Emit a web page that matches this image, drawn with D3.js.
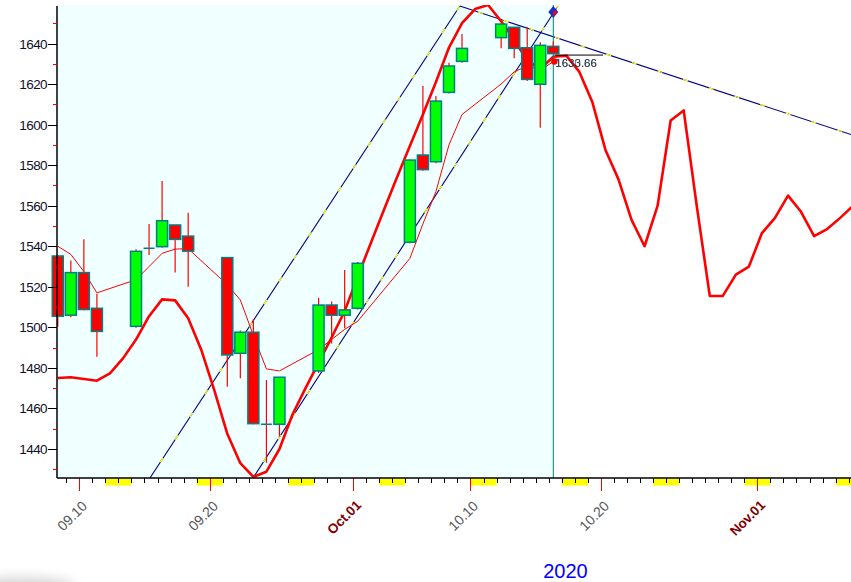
<!DOCTYPE html>
<html><head><meta charset="utf-8">
<script src="https://cdn.jsdelivr.net/npm/d3@7"></script>
<style>html,body{margin:0;padding:0;background:#fff;overflow:hidden}svg{display:block}</style>
</head><body><svg id="c" width="851" height="582"></svg>
<script>
// ---------- data ----------
const candleDates = ["2020-09-08","2020-09-09","2020-09-10","2020-09-11","2020-09-14","2020-09-15","2020-09-16","2020-09-17","2020-09-18","2020-09-21","2020-09-22","2020-09-23","2020-09-24","2020-09-25","2020-09-28","2020-09-29","2020-09-30","2020-10-01","2020-10-05","2020-10-06","2020-10-07","2020-10-08","2020-10-09","2020-10-12","2020-10-13","2020-10-14","2020-10-15","2020-10-16"];
const openV  = [1535.2,1506,1527,1509.4,1500.5,1539,1539.8,1550.5,1545,1534.4,1487.2,1497.6,1452.2,1452.2,1478.5,1511,1506,1509.4,1542,1585,1581.7,1615.9,1631.2,1642.9,1648,1637.9,1619.9,1638.6];
const highV  = [1535.5,1533,1543.5,1516.5,1538.5,1551,1572.2,1550.5,1556.5,1534.4,1498.5,1504,1474,1475.5,1514.6,1512.7,1528.3,1532.2,1582.8,1619,1614.1,1630.5,1644.7,1650,1648,1648,1640.6,1641];
const lowV   = [1500.3,1505,1508.4,1485.5,1499.8,1535.7,1539.3,1527,1520,1470.7,1474.9,1452.2,1433.2,1446.1,1477.5,1492,1499.5,1508.8,1541.5,1577.3,1581,1615.4,1630.5,1637.6,1632.7,1621.5,1598.5,1635];
const closeV = [1505.5,1527,1508.8,1498,1537.5,1539,1552.6,1543.4,1537.6,1486.4,1497.6,1452.5,1452.2,1475.4,1511,1506,1508.6,1531.6,1582.5,1577.8,1611.6,1628.9,1637.6,1649.6,1637.6,1622.3,1639.1,1635];
const avgLine = [1540,1536,1527.5,1517,1523.5,1530,1536.5,1538.6,1538.8,1521,1513.5,1496,1479.5,1478.5,1489,1494,1499,1503,1534,1551,1567,1590,1605,1620,1626,1629,1627,1631];

// daily smoothed / projected curve, Sep 8 .. Nov 8
const curveStart = "2020-09-08";
const curveValues = [1475,1475.4,1474.5,1473.7,1477.3,1484.7,1494,1505.5,1513.8,1513.3,1504.5,1489,1469,1447.5,1433,1426.3,1428.8,1440,1457,1470,1482.5,1495,1508,1525,1541.5,1557.8,1573.8,1589.4,1605,1621,1638,1650,1657,1659,1651,1642,1631.5,1627.5,1633.5,
  1634,1626,1611,1587.5,1573,1553,1540,1560,1602,1607,1560,1515.5,1515.5,1526,1530,1546.5,1554,1565,1557,1545,1548.5,1554,1560];

// trend lines [date, value] endpoints
const trendUpper = [["2020-09-15T10:00:00Z",1425.7],["2020-10-09T04:30:00Z",1658.5]];
const trendLower = [["2020-09-23T07:40:00Z",1425.7],["2020-10-16T17:00:00Z",1658.5]];
const trendDown  = [["2020-10-09T04:30:00Z",1658.5],["2020-11-08T04:20:00Z",1595.1]];

const xTickDates = ["2020-09-10","2020-09-20","2020-10-01","2020-10-10","2020-10-20","2020-11-01"];
const xTickTexts = ["09.10","09.20","Oct.01","10.10","10.20","Nov.01"];
const xTickMonth = [false,false,true,false,false,true];
const yMajor = [1440,1460,1480,1500,1520,1540,1560,1580,1600,1620,1640];
const yMinor = [1430,1450,1470,1490,1510,1530,1550,1570,1590,1610,1630,1650];
const yearLabel = "2020";
const lastPrice = 1634.3, markerValue = 1631.1, diamondValue = 1655.5;
const priceTexts = ["1633.66","1630.86"];

// ---------- scales ----------
const P = s => new Date(s.length === 10 ? s + "T00:00:00Z" : s);
const DAY = 864e5;
const ref = P("2020-09-10").getTime();
const x = d3.scaleUtc().domain([new Date(ref - 1.71*DAY), new Date(ref + 59.18*DAY)]).range([57, 851]);
const y = d3.scaleLinear().domain([1425.7, 1658.5]).range([478, 6]);
const dayPx = x(new Date(ref + DAY)) - x(new Date(ref));
const off = 0.35 * dayPx;
const xc = d => x(P(d)) + off;

const svg = d3.select("#c");
const defs = svg.append("defs");
defs.append("clipPath").attr("id","plot").append("rect").attr("x",57).attr("y",5).attr("width",794).attr("height",473);
const blur = defs.append("filter").attr("id","blur").attr("x","-50%").attr("y","-50%").attr("width","200%").attr("height","200%");
blur.append("feGaussianBlur").attr("stdDeviation",6);

svg.append("rect").attr("width",851).attr("height",582).attr("fill","#fff");
svg.append("ellipse").attr("cx",20).attr("cy",586).attr("rx",55).attr("ry",9).attr("fill","#d8d8d8").attr("filter","url(#blur)");

const lastX = xc(candleDates[candleDates.length-1]);
// history background
svg.append("rect").attr("x",57).attr("y",5).attr("width",lastX-57).attr("height",473).attr("fill","#f0ffff");

const plot = svg.append("g").attr("clip-path","url(#plot)");

// trend lines
[trendUpper, trendLower, trendDown].forEach(t => {
  const pts = t.map(p => [x(P(p[0])), y(p[1])]);
  plot.append("line").attr("x1",pts[0][0]).attr("y1",pts[0][1]).attr("x2",pts[1][0]).attr("y2",pts[1][1])
    .attr("stroke","#000080").attr("stroke-width",1.1);
  plot.append("line").attr("x1",pts[0][0]).attr("y1",pts[0][1]).attr("x2",pts[1][0]).attr("y2",pts[1][1])
    .attr("stroke","#ffff00").attr("stroke-width",1.2).attr("stroke-dasharray","5,22").attr("stroke-dashoffset",8);
});

// vertical marker line
svg.append("line").attr("x1",lastX).attr("x2",lastX).attr("y1",5).attr("y2",478).attr("stroke","#008080").attr("stroke-width",1);

// moving-average thin line
const line = d3.line();
plot.append("path").attr("d", line(candleDates.map((d,i)=>[xc(d), y(avgLine[i])])))
  .attr("fill","none").attr("stroke","#ff0000").attr("stroke-width",1);

// candles
const cw = 11;
const cg = svg.append("g");
candleDates.forEach((d,i) => {
  const cx = xc(d);
  cg.append("line").attr("x1",cx).attr("x2",cx).attr("y1",y(highV[i])).attr("y2",y(lowV[i]))
    .attr("stroke","#ff0000").attr("stroke-width",1.2);
});
candleDates.forEach((d,i) => {
  const cx = xc(d), o = openV[i], c = closeV[i];
  const top = y(Math.max(o,c)), bot = y(Math.min(o,c));
  if (Math.abs(bot-top) < 1) {
    cg.append("line").attr("x1",cx-cw/2).attr("x2",cx+cw/2).attr("y1",top).attr("y2",top).attr("stroke","#008080").attr("stroke-width",1.5);
  } else {
    cg.append("rect").attr("x",cx-cw/2).attr("y",top).attr("width",cw).attr("height",bot-top)
      .attr("fill", c >= o ? "#00ff00" : "#ff0000").attr("stroke","#008080").attr("stroke-width",1.5);
  }
});

// thick curve
const cStart = P(curveStart);
const curveDates = d3.utcDay.range(cStart, d3.utcDay.offset(cStart, curveValues.length));
plot.append("path").attr("d", line(curveDates.map((d,i)=>[x(d)+off, y(curveValues[i])])))
  .attr("fill","none").attr("stroke","#ff0000").attr("stroke-width",2.6).attr("stroke-linejoin","round");

// price marker
const lp0 = d3.utcHour.offset(P("2020-10-16"), 11), lp1 = d3.utcHour.offset(P("2020-10-20"), 4);
svg.append("line").attr("x1",x(lp0)).attr("x2",x(lp1)).attr("y1",y(lastPrice)).attr("y2",y(lastPrice)).attr("stroke","#000").attr("stroke-width",1);
svg.append("circle").attr("cx",lastX+1).attr("cy",y(markerValue)).attr("r",3.2).attr("fill","#ff0000");
svg.append("text").attr("x",lastX+2).attr("y",y(lastPrice)+11.5).attr("font-family","Liberation Sans, Arial, sans-serif")
  .attr("font-size",11.5).attr("fill","#4a7fb5").attr("opacity",0.9).text(priceTexts[1]);
svg.append("text").attr("x",lastX+2).attr("y",y(lastPrice)+11.5).attr("font-family","Liberation Sans, Arial, sans-serif")
  .attr("font-size",11.5).attr("fill","#222").attr("opacity",0.85).text(priceTexts[0]);

// diamond
const dy = y(diamondValue);
svg.append("path").attr("d",`M${lastX},${dy-6}L${lastX+5},${dy}L${lastX},${dy+6}L${lastX-5},${dy}Z`).attr("fill","#1030d0");
svg.append("path").attr("d",`M${lastX},${dy-2}L${lastX+4},${dy}L${lastX},${dy+5}Z`).attr("fill","#ff0000");

// ---------- axes ----------
const font = "Liberation Sans, Arial, sans-serif";
// weekend blocks
const allDays = d3.utcDay.range(x.domain()[0], x.domain()[1]);
allDays.filter(d => d.getUTCDay() === 6).forEach(d => {
  const x0 = x(d), x1 = Math.min(851, x(d3.utcDay.offset(d,2)));
  svg.append("rect").attr("x",x0).attr("y",478.5).attr("width",x1-x0).attr("height",7).attr("fill","#ffff00");
});
// daily ticks
allDays.forEach(d => {
  const xx = Math.round(x(d)) + 0.5;
  if (xx > 58) svg.append("line").attr("x1",xx).attr("x2",xx).attr("y1",478).attr("y2",483).attr("stroke","#000").attr("stroke-width",1);
});
// labelled ticks
xTickDates.forEach((d,i) => {
  const xx = Math.round(x(P(d))) + 0.5;
  svg.append("line").attr("x1",xx).attr("x2",xx).attr("y1",478).attr("y2",491).attr("stroke","#ff0000").attr("stroke-width",1);
  svg.append("text").attr("transform",`translate(${xx+8.5},${xTickMonth[i]?506:507}) rotate(-45)`)
    .attr("text-anchor","end").attr("font-family",font)
    .attr("font-size", xTickMonth[i] ? 13.5 : 14)
    .attr("font-weight", xTickMonth[i] ? "bold" : "normal")
    .attr("fill", xTickMonth[i] ? "#800000" : "#555")
    .text(xTickTexts[i]);
});
// axis lines
svg.append("line").attr("x1",57).attr("x2",851).attr("y1",478).attr("y2",478).attr("stroke","#000").attr("stroke-width",1.5);
svg.append("line").attr("x1",57).attr("x2",57).attr("y1",6).attr("y2",478).attr("stroke","#000").attr("stroke-width",1.5);
// y ticks
yMinor.forEach(v => {
  const yy = Math.round(y(v)) + 0.5;
  svg.append("line").attr("x1",53).attr("x2",57).attr("y1",yy).attr("y2",yy).attr("stroke","#ff0000").attr("stroke-width",1);
});
yMajor.forEach(v => {
  const yy = Math.round(y(v)) + 0.5;
  svg.append("line").attr("x1",48).attr("x2",57).attr("y1",yy).attr("y2",yy).attr("stroke","#000").attr("stroke-width",1);
  svg.append("text").attr("x",47).attr("y",yy).attr("dy","0.36em").attr("text-anchor","end")
    .attr("font-family",font).attr("font-size",13.5).attr("letter-spacing","-0.6").attr("fill","#101028").text(v);
});
// year
svg.append("text").attr("x",565.5).attr("y",577.5).attr("text-anchor","middle").attr("font-family",font)
  .attr("font-size",20).attr("fill","#0000ff").text(yearLabel);
</script></body></html>
